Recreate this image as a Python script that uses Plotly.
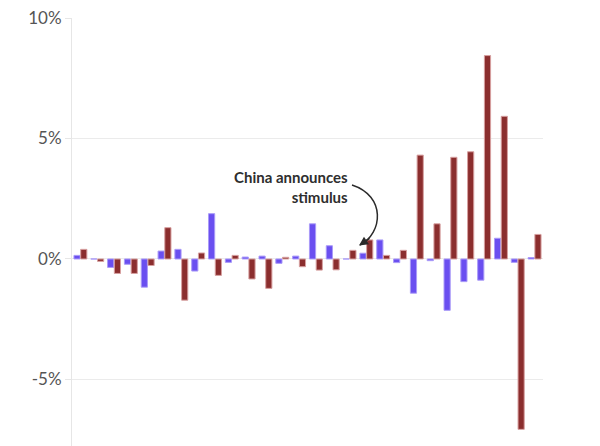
import plotly.graph_objects as go

quarters = list(range(28))
blue_vals = [0.15, 0.0, -0.35, -0.22, -1.17, 0.33, 0.40, -0.50, 1.88, -0.14,
             0.08, 0.12, -0.18, 0.12, 1.46, 0.55, 0.0, 0.24, 0.79, -0.15,
             -1.42, -0.07, -2.13, -0.94, -0.88, 0.86, -0.14, 0.06]
red_vals = [0.40, -0.10, -0.60, -0.60, -0.27, 1.30, -1.71, 0.25, -0.68, 0.15,
            -0.83, -1.22, 0.07, -0.32, -0.46, -0.45, 0.36, 0.79, 0.15, 0.36,
            4.31, 1.46, 4.22, 4.45, 8.44, 5.92, -7.07, 1.02]
tick_vals = [-5, 0, 5, 10]
tick_text = ["-5%", "0%", "5%", "10%"]

BLUE = "#6a4ff0"
RED = "#8b2e2e"

fig = go.Figure()
fig.add_trace(go.Bar(x=quarters, y=blue_vals, marker=dict(color=BLUE, line=dict(color="rgba(170,155,248,1)", width=1)), showlegend=False))
fig.add_trace(go.Bar(x=quarters, y=red_vals, marker=dict(color=RED, line=dict(color="rgba(215,160,160,1)", width=1)), showlegend=False))

# pixel -> data helpers for annotation geometry
def px2x(px):
    return (px - 72) / (471 / 28) - 0.5

def py2y(py):
    return (259 - py) / 24.1

path = "M {},{} C {},{} {},{} {},{}".format(
    px2x(352), py2y(185), px2x(386), py2y(196), px2x(383), py2y(233), px2x(360), py2y(245))
fig.add_shape(type="path", path=path, xref="x", yref="y", line=dict(color="#2b2b2b", width=1.5))

fig.add_annotation(x=px2x(359), y=py2y(245.5), xref="x", yref="y", text="", showarrow=True,
                   ax=12, ay=-8, arrowhead=2, arrowsize=1.2, arrowwidth=1.5, arrowcolor="#2b2b2b", standoff=0)
fig.add_annotation(x=px2x(350), y=py2y(187), xref="x", yref="y",
                   text="<b>China announces</b><br><b>stimulus</b>", showarrow=False,
                   xanchor="right", yanchor="middle", align="right",
                   font=dict(family="Lato, sans-serif", size=15, color="#2e2e2e"))

fig.update_layout(
    width=600, height=446,
    margin=dict(l=72, r=57, t=18, b=0),
    paper_bgcolor="white", plot_bgcolor="white",
    barmode="group", bargap=0.2, bargroupgap=0.08,
    xaxis=dict(range=[-0.5, 27.5], showticklabels=False, showgrid=False, zeroline=False, ticks=""),
    yaxis=dict(range=[-7.76, 10], tickvals=tick_vals, ticktext=tick_text,
               showgrid=True, gridcolor="#ebebeb", gridwidth=1,
               zeroline=True, zerolinecolor="#ebebeb", zerolinewidth=1,
               showline=True, linecolor="#e6e6e6", linewidth=1,
               ticks="outside", ticklen=6, tickcolor="#e6e6e6",
               tickfont=dict(family="Lato, sans-serif", size=17, color="#555555")),
    font=dict(family="Lato, sans-serif"),
)

fig.write_html("out.html", config={"displayModeBar": False},
               post_script="document.body.style.margin='0';document.body.style.overflow='hidden';")
